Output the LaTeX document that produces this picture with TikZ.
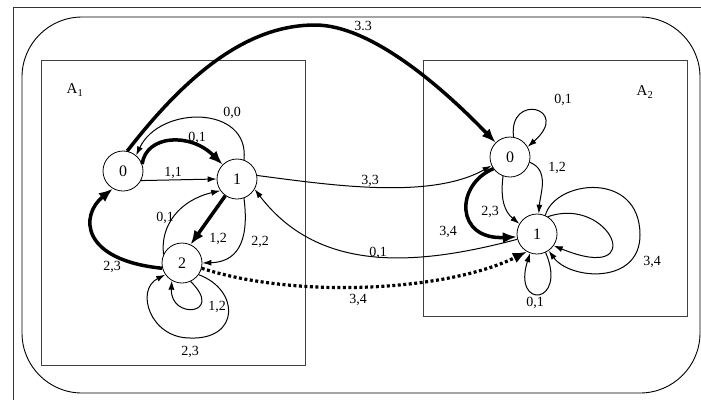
\documentclass[tikz,border=0pt]{standalone}
\usepackage{fontspec}
\setmainfont{Liberation Serif}
\usepackage{tikz}
\usetikzlibrary{arrows.meta}

\begin{document}
\begin{tikzpicture}[x=1pt,y=-1pt,
	state/.style={circle,draw,line width=0.8pt,minimum size=40pt,inner sep=0pt,font=\fontsize{16}{18}\selectfont},
	lbl/.style={inner sep=0pt,font=\fontsize{14}{16}\selectfont},
	thinarr/.style={line width=1pt,-{Latex[length=9pt,width=6pt]}},
	thickarr/.style={line width=3.5pt,-{Latex[length=14pt,width=11pt]}},
	dotarr/.style={line width=3.2pt,dash pattern=on 3pt off 2.5pt,-{Latex[length=14pt,width=11pt]}}]
	\useasboundingbox (0,0) rectangle (701,400);
	\draw[black!80,line width=0.8pt] (701,7) -- (13,7) -- (13,400);
	\draw[line width=0.9pt,rounded corners=60pt] (22,17) rectangle (700,393);
	\draw[black!75,line width=1pt] (41,60) rectangle (305,365);
	\draw[black!75,line width=1pt] (423,60) rectangle (687,316);
	\node[lbl,font=\fontsize{15}{17}\selectfont] (n1) at (75,90) {A\textsubscript{1}};
	\node[lbl,font=\fontsize{15}{17}\selectfont] (n2) at (645,92) {A\textsubscript{2}};
	% A1
	\node[state] (a0) at (123,171) {0};
	\node[state] (a1) at (237,179) {1};
	\node[state] (a2) at (182,263) {2};
	% A2
	\node[state] (b0) at (510,157) {0};
	\node[state] (b1) at (537,234) {1};
	% product moves
	\draw[thickarr] (a0.78) .. controls (190,70) and (250,25) .. (315,25) .. controls (370,25) and (440,85) .. (b0.135);
	\draw[thinarr] (a1.10) .. controls (330,185) and (430,200) .. (b0.205);
	\draw[thinarr] (b1.195) .. controls (420,265) and (320,275) .. (a1.-30);
	\draw[dotarr] (a2.-15) .. controls (300,300) and (450,290) .. (b1.240);
	% inside A1
	\draw[thickarr] (a0.20) .. controls (146,135) and (190,132) .. (a1.135);
	\draw[thinarr] (a1.70) .. controls (250,105) and (160,105) .. (a0.50);
	\draw[thinarr] (a0.-28) -- (a1.west);
	\draw[thickarr] (a1.235) -- (a2.65);
	\draw[thinarr] (a2.155) .. controls (160,225) and (180,200) .. (a1.215);
	\draw[thinarr] (a1.-70) .. controls (250,245) and (235,262) .. (a2.0);
	\draw[thickarr] (a2.195) .. controls (80,260) and (80,215) .. (a0.240);
	\draw[thinarr] (a2.-35) .. controls (240,290) and (240,340) .. (190,338) .. controls (150,338) and (135,290) .. (a2.215);
	\draw[thinarr] (a2.-65) .. controls (225,315) and (170,320) .. (a2.-120);
	% inside A2
	\draw[thinarr] (b0.80) .. controls (508,92) and (572,108) .. (b0.30);
	\draw[thinarr] (b0.-15) .. controls (550,170) and (540,195) .. (b1.85);
	\draw[thinarr] (b0.-110) .. controls (500,200) and (505,212) .. (b1.150);
	\draw[thickarr] (b0.215) .. controls (455,185) and (455,240) .. (b1.188);
	\draw[thinarr] (b1.-65) .. controls (568,305) and (512,310) .. (b1.-110);
	\draw[thinarr] (b1.58) .. controls (610,195) and (650,285) .. (b1.-35);
	\draw[thinarr] (b1.66) .. controls (555,180) and (640,170) .. (640,235) .. controls (640,285) and (570,280) .. (b1.-55);
	% labels
	\node[lbl] (l1) at (363,26) {3.3};
	\node[lbl] (l2) at (232,113) {0,0};
	\node[lbl] (l3) at (197,138) {0,1};
	\node[lbl] (l4) at (173,173) {1,1};
	\node[lbl] (l5) at (165,218) {0,1};
	\node[lbl] (l6) at (218,239) {1,2};
	\node[lbl] (l7) at (260,242) {2,2};
	\node[lbl] (l8) at (112,267) {2,3};
	\node[lbl] (l9) at (217,307) {1,2};
	\node[lbl] (l10) at (190,352) {2,3};
	\node[lbl] (l11) at (370,181) {3,3};
	\node[lbl] (l12) at (378,253) {0,1};
	\node[lbl] (l13) at (358,300) {3,4};
	\node[lbl] (l14) at (563,100) {0,1};
	\node[lbl] (l15) at (557,168) {1,2};
	\node[lbl] (l16) at (490,212) {2,3};
	\node[lbl] (l17) at (448,232) {3,4};
	\node[lbl] (l18) at (652,262) {3,4};
	\node[lbl] (l19) at (535,303) {0,1};
\end{tikzpicture}
\end{document}
